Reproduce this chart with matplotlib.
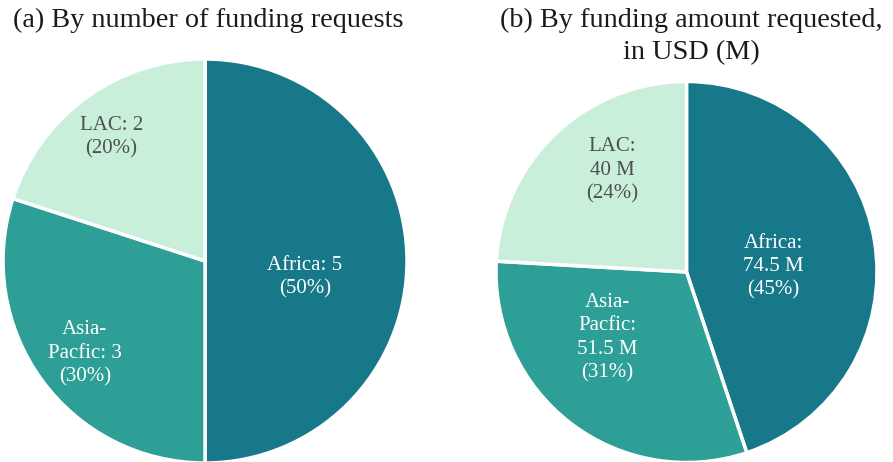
import numpy as np
import matplotlib.pyplot as plt

plt.rcParams["font.family"] = ["Liberation Serif", "DejaVu Serif"]

# data
regions = ["Africa", "Asia-\nPacfic", "LAC"]
n_requests = [5, 3, 2]
amount_musd = [74.5, 51.5, 40]

colors = ["#17788a", "#2e9f96", "#c9efdb"]
text_colors = ["white", "white", "#4d514f"]

fig = plt.figure(figsize=(8.93, 4.62), dpi=100)

# pie axes placed so that both circles sit like in the original
ax1 = fig.add_axes([0.0034, -0.0022, 0.4524, 0.8745])
ax2 = fig.add_axes([0.5554, -0.0011, 0.4267, 0.8247])


def draw_pie(ax, values, labels, dists, nudges):
    # dists = radial position of label (fraction of radius)
    # nudges = angle shift from the wedge middle, degrees
    wedges, _ = ax.pie(values, colors=colors, startangle=90, counterclock=False,
                       wedgeprops=dict(edgecolor="white", linewidth=2.5))
    for w, lab, d, nd, tc in zip(wedges, labels, dists, nudges, text_colors):
        mid = np.deg2rad((w.theta1 + w.theta2) / 2 + nd)
        ax.text(d * np.cos(mid), d * np.sin(mid), lab, ha="center", va="center",
                fontsize=15, color=tc, linespacing=1.3)
    ax.set_xlim(-1, 1)
    ax.set_ylim(-1, 1)
    ax.set_aspect("equal")
    ax.axis("off")


# (a) by number of requests
labels_a = []
for r, v in zip(regions, n_requests):
    pct = round(100 * v / sum(n_requests))
    labels_a.append(f"{r}: {v}\n({pct}%)")
draw_pie(ax1, n_requests, labels_a, [0.50, 0.75, 0.77], [-9, 1.5, 1])

# (b) by amount requested
labels_b = []
for r, v in zip(regions, amount_musd):
    pct = round(100 * v / sum(amount_musd))
    labels_b.append(f"{r}:\n{v:g} M\n({pct}%)")
draw_pie(ax2, amount_musd, labels_b, [0.455, 0.54, 0.66], [-5.7, -12.9, -7.4])

fig.text(208 / 893, 1 - 8 / 462, "(a) By number of funding requests",
         ha="center", va="top", fontsize=20.3, color="#1a1a1a")
fig.text(691 / 893, 1 - 8 / 462, "(b) By funding amount requested,\nin USD (M)",
         ha="center", va="top", fontsize=20.3, color="#1a1a1a", linespacing=1.35)

fig.savefig("out.png", dpi=100, facecolor="white")
